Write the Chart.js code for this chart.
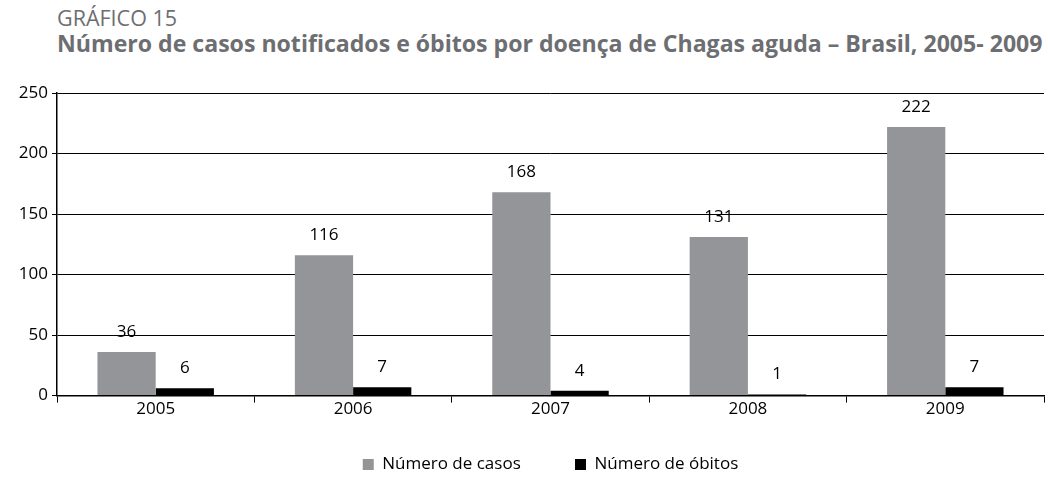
<!DOCTYPE html>
<html>
<head>
<meta charset="utf-8">
<script src="https://cdn.jsdelivr.net/npm/chart.js@4/dist/chart.umd.min.js"></script>
<style>
  html, body { margin:0; padding:0; background:#fff; }
  #wrap { position:relative; width:1048px; height:483px; }
  #sup { position:absolute; left:57px; top:3px; font:21.5px "Open Sans", sans-serif; color:#6d6e71; white-space:nowrap; }
  #ttl { position:absolute; left:57px; top:27px; font:bold 23.1px "Open Sans", sans-serif; color:#6d6e71; white-space:nowrap; }
  canvas { position:absolute; left:0; top:0; }
</style>
</head>
<body>
<div id="wrap">
  <div id="sup">GRÁFICO 15</div>
  <div id="ttl">Número de casos notificados e óbitos por doença de Chagas aguda – Brasil, 2005- 2009</div>
  <canvas id="c" width="1048" height="483"></canvas>
</div>
<script>
// data
const years = ['2005', '2006', '2007', '2008', '2009'];
const casos = [36, 116, 168, 131, 222];
const obitos = [6, 7, 4, 1, 7];
const yTicks = [0, 50, 100, 150, 200, 250];

const FONT = '"Open Sans", sans-serif';

// draws the value above each bar
const valueLabels = {
  id: 'valueLabels',
  afterDatasetsDraw(chart){
    const ctx = chart.ctx;
    ctx.save();
    ctx.font = '17px ' + FONT;
    ctx.fillStyle = '#000';
    ctx.textAlign = 'center';
    ctx.textBaseline = 'middle';
    chart.data.datasets.forEach((ds, i) => {
      chart.getDatasetMeta(i).data.forEach((bar, j) => {
        ctx.fillText(String(ds.data[j]), bar.x, bar.y - 20);
      });
    });
    ctx.restore();
  }
};

new Chart(document.getElementById('c'), {
  type: 'bar',
  data: {
    labels: years,
    datasets: [
      {label:'Número de casos', data: casos, backgroundColor:'#939598', barPercentage:1.0, categoryPercentage:0.59},
      {label:'Número de óbitos', data: obitos, backgroundColor:'#000000', barPercentage:1.0, categoryPercentage:0.59}
    ]
  },
  options: {
    responsive: false,
    animation: false,
    layout: { padding: { top: 93, right: 4, left: 0, bottom: 0 } },
    plugins: {
      legend: {
        position: 'bottom',
        fullSize: false,
        labels: {
          boxWidth: 11, boxHeight: 11, padding: 41, color:'#000', font:{ family: FONT, size: 17 },
          generateLabels(chart){
            const items = Chart.defaults.plugins.legend.labels.generateLabels(chart);
            items.forEach((it, i) => { if (i === 0) it.text += '   '; });
            return items;
          }
        }
      },
      tooltip: { enabled: false }
    },
    scales: {
      x: {
        grid: { display: true, drawOnChartArea: false, drawTicks: true, tickLength: 7, color:'#000', lineWidth: 1 },
        border: { color:'#000', width: 1.5 },
        ticks: { color:'#000', font:{ family: FONT, size: 17 }, padding: -4 }
      },
      y: {
        min: 0, max: 250,
        afterBuildTicks(scale){ scale.ticks = yTicks.map(v => ({value: v})); },
        afterFit(scale){ scale.width = 57; },
        grid: { color:'#000', lineWidth: 1, tickLength: 5 },
        border: { color:'#000', width: 1.5 },
        ticks: { color:'#000', font:{ family: FONT, size: 17 }, padding: 4 }
      }
    }
  },
  plugins: [valueLabels]
});
</script>
</body>
</html>
